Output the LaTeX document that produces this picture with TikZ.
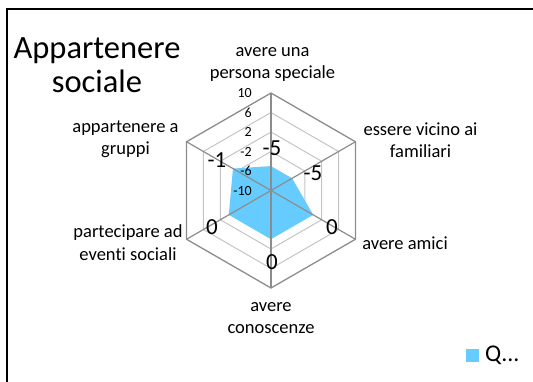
\documentclass[tikz,border=0pt]{standalone}
\usepackage{fontspec}
\setmainfont[RawFeature=-liga]{Carlito}
\definecolor{radarblue}{RGB}{102,204,255}
\definecolor{gridgray}{RGB}{196,196,196}
\definecolor{axisgray}{RGB}{140,140,140}
\usepackage{tikz}
\usetikzlibrary{positioning}

\begin{document}
\begin{tikzpicture}[x=1pt, y=1pt,
  catlabel/.style={align=center, font=\fontsize{18.5}{22.5}\selectfont},
  datalabel/.style={font=\fontsize{23}{25}\selectfont, inner sep=0pt},
  ticklabel/.style={anchor=east, font=\fontsize{14}{15}\selectfont, inner sep=0pt}]
  \useasboundingbox (-271,-190.5) rectangle (262,190.5);

  % chart frame
  \draw[line width=1.5pt] (-264,-205) -- (-264,181.5) -- (270,181.5);

  % title
  \node[align=center, font=\fontsize{32.5}{34}\selectfont] (title) at (-174,125.5) {Appartenere\\sociale};

  % rings
  \draw[gridgray, line width=1pt] (90:19.5) -- (30:19.5) -- (-30:19.5) -- (-90:19.5) -- (-150:19.5) -- (150:19.5) -- cycle;
  \draw[gridgray, line width=1pt] (90:39) -- (30:39) -- (-30:39) -- (-90:39) -- (-150:39) -- (150:39) -- cycle;
  \draw[gridgray, line width=1pt] (90:58.5) -- (30:58.5) -- (-30:58.5) -- (-90:58.5) -- (-150:58.5) -- (150:58.5) -- cycle;
  \draw[gridgray, line width=1pt] (90:78) -- (30:78) -- (-30:78) -- (-90:78) -- (-150:78) -- (150:78) -- cycle;
  \draw[axisgray, line width=1.3pt] (90:97.5) -- (30:97.5) -- (-30:97.5) -- (-90:97.5) -- (-150:97.5) -- (150:97.5) -- cycle;

  % data area
  \fill[radarblue] (90:24.4) -- (30:24.4) -- (-30:48.75) -- (-90:48.75) -- (-150:48.75) -- (150:43.9) -- cycle;

  % spokes
  \draw[axisgray, line width=1.2pt] (0,0) -- (90:97.5);
  \draw[axisgray, line width=1.2pt] (0,0) -- (30:97.5);
  \draw[axisgray, line width=1.2pt] (0,0) -- (-30:97.5);
  \draw[axisgray, line width=1.2pt] (0,0) -- (-90:97.5);
  \draw[axisgray, line width=1.2pt] (0,0) -- (-150:97.5);
  \draw[axisgray, line width=1.2pt] (0,0) -- (150:97.5);

  % scale
  \node[ticklabel] (t10) at (-19,97.5) {10};
  \node[ticklabel] (t6) at (-19,78) {6};
  \node[ticklabel] (t2) at (-19,58.5) {2};
  \node[ticklabel] (tm2) at (-19,39) {-2};
  \node[ticklabel] (tm6) at (-19,19.5) {-6};
  \node[ticklabel] (tm10) at (-19,-1) {-10};

  % categories
  \node[catlabel] (speciale) at (1.5,126) {avere una\\persona speciale};
  \node[catlabel] (familiari) at (149.5,50.5) {essere vicino ai\\familiari};
  \node[catlabel] (amici) at (134,-52.5) {avere amici};
  \node[catlabel] (conoscenze) at (0,-127.5) {avere\\conoscenze};
  \node[catlabel] (eventi) at (-143,-52) {partecipare ad\\eventi sociali};
  \node[catlabel] (gruppi) at (-145.5,51.5) {appartenere a\\gruppi};

  % values
  \node[datalabel] (vspeciale) at (1,42.5) {-5};
  \node[datalabel] (vfamiliari) at (42,17.5) {-5};
  \node[datalabel] (vamici) at (61,-36.5) {0};
  \node[datalabel] (vconoscenze) at (1,-71.5) {0};
  \node[datalabel] (veventi) at (-59,-36.5) {0};
  \node[datalabel] (vgruppi) at (-54,30.5) {-1};

  % legend
  \fill[radarblue] (195,-158) rectangle (208,-171);
  \node[anchor=west, font=\fontsize{24}{26}\selectfont, inner sep=0pt] (legend) at (214,-165) {Q...};
\end{tikzpicture}
\end{document}
